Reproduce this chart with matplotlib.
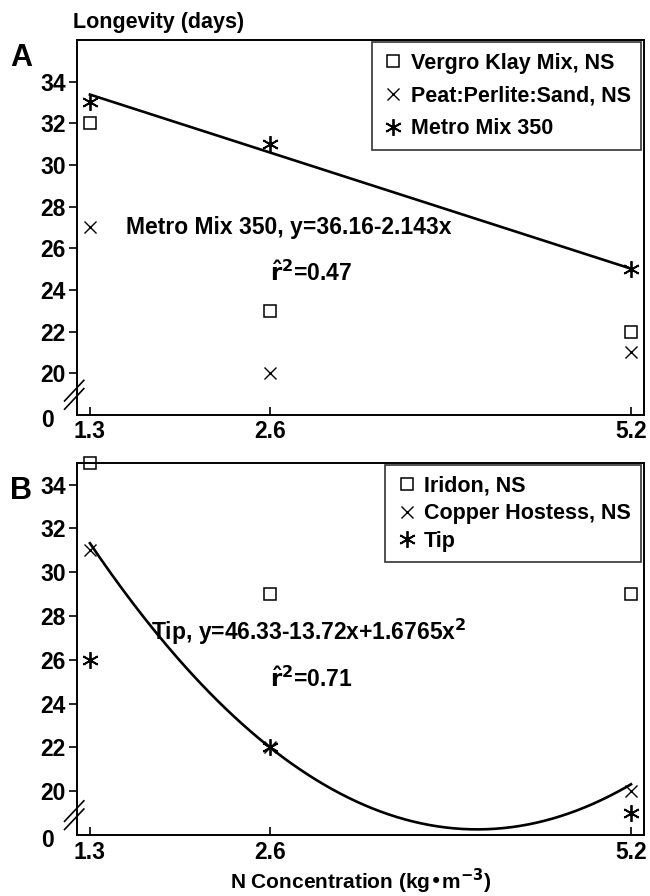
import numpy as np
import matplotlib.pyplot as plt

plt.rcParams['font.family'] = ['Liberation Sans', 'DejaVu Sans']
plt.rcParams['font.weight'] = 'bold'
plt.rcParams['mathtext.fontset'] = 'dejavusans'

# N concentration levels
n_conc = [1.3, 2.6, 5.2]

# panel A - growing media
vergro = [32, 23, 22]
peat = [27, 20, 21]
metro = [33, 31, 25]
fit_a = [36.16, -2.143]          # y = a + b x

# panel B - cultivars
iridon = [35, 29, 29]
copper = [31, 22, 20]
tip = [26, 22, 19]
fit_b = [46.33, -13.72, 1.6765]  # y = a + b x + c x^2

ASTER = (6, 2, 0)
FS = 16.5


def setup(ax, ymax):
    ax.set_xlim(1.207, 5.29)
    ax.set_ylim(18, ymax)
    ax.set_xticks(n_conc)
    ax.set_xticklabels(['1.3', '2.6', '5.2'])
    ax.set_yticks(range(20, 35, 2))
    ax.tick_params(axis='x', direction='in', length=6, width=1.2, labelsize=FS, pad=4)
    ax.tick_params(axis='y', direction='out', length=6, width=1.2, labelsize=FS, pad=2)
    for s in ax.spines.values():
        s.set_linewidth(1.4)
    # axis break marks and zero label
    for dy in (0, 0.022):
        ax.plot([-0.022, 0.012], [0.015 + dy, 0.07 + dy], transform=ax.transAxes,
                color='black', lw=1.2, clip_on=False)
    ax.text(-0.052, -0.015, '0', transform=ax.transAxes, fontsize=FS,
            fontweight='bold', ha='center', va='center')


def points(ax, series, labels, spacing):
    styles = [dict(marker='s', ms=8, mfc='none', mec='black', mew=1.1),
              dict(marker='x', ms=8, mec='black', mew=1.0),
              dict(marker=ASTER, ms=12, mec='black', mew=1.3)]
    for vals, lab, st in zip(series, labels, styles):
        ax.plot(n_conc, vals, ls='none', label=lab, clip_on=False, **st)
    leg = ax.legend(loc='upper right', frameon=True, fancybox=False, fontsize=15.5,
                    handletextpad=0.3, labelspacing=spacing, borderaxespad=0.1,
                    borderpad=0.5, handlelength=1.0)
    leg.get_frame().set_edgecolor('black')
    leg.get_frame().set_linewidth(1.2)
    for t in leg.get_texts():
        t.set_fontweight('bold')


fig = plt.figure(figsize=(6.5, 8.96), dpi=100)
ax1 = fig.add_axes([0.1185, 0.537, 0.8715, 0.4185])
ax2 = fig.add_axes([0.1185, 0.068, 0.8715, 0.4155])

# panel A
setup(ax1, 36)
points(ax1, [vergro, peat, metro],
       ['Vergro Klay Mix, NS', 'Peat:Perlite:Sand, NS', 'Metro Mix 350'], 0.55)
xs = np.array([n_conc[0], n_conc[-1]])
ax1.plot(xs, fit_a[0] + fit_a[1] * xs, color='black', lw=1.9)
ax1.text(1.56, 27, 'Metro Mix 350, y=36.16-2.143x', fontsize=FS, va='center')
ax1.text(2.6, 24.8, r'$\hat{\mathbf{r}}^{\mathbf{2}}$=0.47', fontsize=FS, va='center')

# panel B
setup(ax2, 35)
points(ax2, [iridon, copper, tip], ['Iridon, NS', 'Copper Hostess, NS', 'Tip'], 0.3)
xc = np.linspace(n_conc[0], n_conc[-1], 200)
ax2.plot(xc, fit_b[0] + fit_b[1] * xc + fit_b[2] * xc ** 2, color='black', lw=1.9)
ax2.text(1.74, 27.3, 'Tip, y=46.33-13.72x+1.6765x$^{\\mathbf{2}}$', fontsize=FS, va='center')
ax2.text(2.6, 25.1, r'$\hat{\mathbf{r}}^{\mathbf{2}}$=0.71', fontsize=FS, va='center')

fig.text(0.555, 0.016, 'N Concentration (kg\u2022m$^{\\mathbf{-3}}$)', fontsize=15,
         fontweight='bold', ha='center', va='center')
fig.text(0.112, 0.975, 'Longevity (days)', fontsize=15.5, fontweight='bold', va='center')
fig.text(0.015, 0.935, 'A', fontsize=22, fontweight='bold', va='center')
fig.text(0.015, 0.452, 'B', fontsize=22, fontweight='bold', va='center')

fig.savefig('out.png', dpi=100)
